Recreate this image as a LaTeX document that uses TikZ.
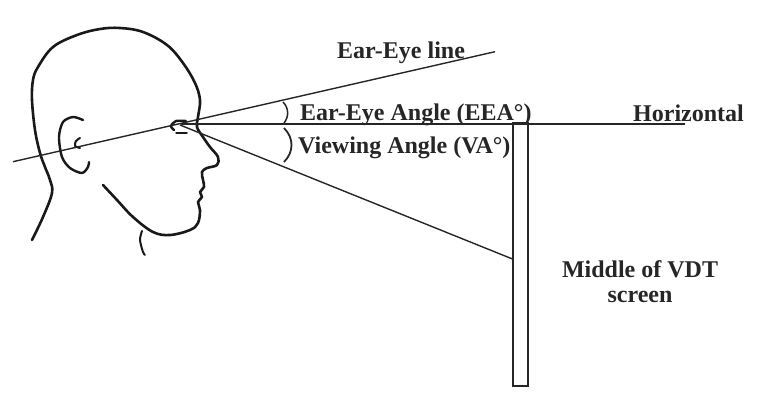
\documentclass[tikz,border=0pt]{standalone}
\usepackage{fontspec}
\setmainfont{Liberation Serif}
\begin{document}
\begin{tikzpicture}[x=1pt,y=-1pt,
  thinline/.style={line width=1.4pt,draw=black!85},
  headline/.style={line width=2.6pt,draw=black!90,line cap=round,line join=round},
  lbl/.style={font=\fontsize{24}{28}\selectfont\bfseries,text=black!85,inner sep=0pt,anchor=base west}]
\useasboundingbox (0,0) rectangle (759,402);
% key points
\coordinate (earstart) at (13,161.7);
\coordinate (eareyeend) at (495,51.7);
\coordinate (eye) at (180,125);
\coordinate (hstart) at (181,124);
\coordinate (hend) at (685,124);
\coordinate (scrmid) at (512.5,259);
% head outline
\draw[headline] plot[smooth,tension=0.6] coordinates {(32,240) (43,217) (52,193) (50,180) (45,167) (40,153) (35,130) (32,100) (33,80) (38,67) (53,47) (77,35) (100,29) (120,28) (143,32) (167,45) (183,63) (195,83) (200,100) (198,117) (197,127) (203,137) (210,147) (218,157) (217,165) (207,168) (202,172) (203,180) (204,187) (200,192) (202,197) (198,202) (200,210) (198,223) (190,230) (170,235) (153,232) (133,217) (117,200) (103,185)};
\draw[headline,line width=2pt] plot[smooth] coordinates {(142,231) (140,240) (143,252) (145,255)};
% ear
\draw[headline,line width=2.4pt] plot[smooth] coordinates {(83,120) (73,117) (63,122) (59,137) (62,157) (70,168) (82,173) (88,167) (89,162)};
\draw[headline,line width=2pt] plot[smooth] coordinates {(80,138) (76,141) (75,146) (80,148)};
% eye
\draw[headline,line width=2.4pt] plot[smooth] coordinates {(186,121) (176,121) (171,126) (174,130)};
\draw[headline,line width=1.5pt] (176,133) -- (187,133);
% lines
\draw[thinline] (earstart) -- (eareyeend);
\draw[thinline] (hstart) -- (hend);
\draw[thinline] (eye) -- (scrmid);
% screen
\draw[thinline,line width=1.2pt] (513,123) rectangle (528,386);
% angle arcs
\draw[thinline,line width=1.5pt] (283,102) .. controls (289,108) and (289,117) .. (284,123);
\draw[thinline,line width=1.8pt] (284,128) .. controls (294,138) and (294,152) .. (284,162);
% labels
\node[lbl] (leel) at (337,58) {Ear-Eye line};
\node[lbl] (leea) at (300,120) {Ear-Eye Angle (EEA°)};
\node[lbl] (lva) at (298,153) {Viewing Angle (VA°)};
\node[lbl] (lhor) at (633,121) {Horizontal};
\node[lbl,anchor=base] (lmid) at (640,277) {Middle of VDT};
\node[lbl,anchor=base] (lscr) at (640,302) {screen};
\end{tikzpicture}
\end{document}
